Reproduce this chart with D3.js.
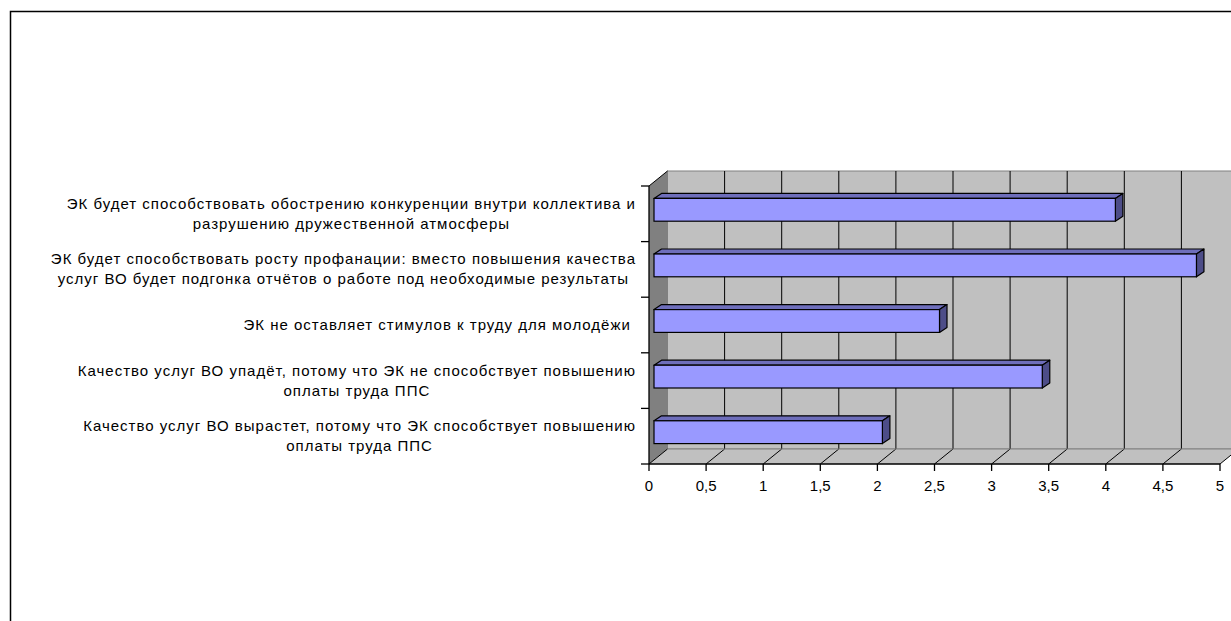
<!DOCTYPE html>
<html><head><meta charset="utf-8">
<script src="https://cdn.jsdelivr.net/npm/d3@7"></script>
<style>html,body{margin:0;padding:0;background:#fff;}svg{display:block;}</style>
</head><body>
<svg id="c" width="1231" height="621"></svg>
<script>
const categories = [
  ["ЭК будет способствовать обострению конкуренции внутри коллектива и", "разрушению дружественной атмосферы"],
  ["ЭК будет способствовать росту профанации: вместо повышения качества", "услуг ВО будет подгонка отчётов о работе под необходимые результаты"],
  ["ЭК не оставляет стимулов к труду для молодёжи "],
  ["Качество услуг ВО упадёт, потому что ЭК не способствует повышению", "оплаты труда ППС"],
  ["Качество услуг ВО вырастет, потому что ЭК способствует повышению", "оплаты труда ППС"]
];
const values = [4.04, 4.75, 2.5, 3.4, 2.0];
const tickValues = [0, 0.5, 1, 1.5, 2, 2.5, 3, 3.5, 4, 4.5, 5];
const tickLabels = ["0", "0,5", "1", "1,5", "2", "2,5", "3", "3,5", "4", "4,5", "5"];

const svg = d3.select("#c");
const font = "'Liberation Sans', Arial, sans-serif";

// chart area border
svg.append("path").attr("d", "M10.5,621 V11.5 H1231").attr("fill", "none").attr("stroke", "#000").attr("stroke-width", 1.5);

const x = d3.scaleLinear().domain([0, 5]).range([649, 1220]);
const y = d3.scaleBand().domain(d3.range(categories.length)).range([186, 464]).padding(0);
const DX = 18.5, DY = -15;        // full depth offset
const bF = [5, -4], bB = [12.5, -9]; // bar front/back depth offsets
const barH = y.bandwidth() * 0.41;

const x0 = x(0), x5 = x(5), yTop = y.range()[0], yBot = y.range()[1];

// back wall
svg.append("rect").attr("x", x0 + DX).attr("y", yTop + DY).attr("width", x5 - x0).attr("height", yBot - yTop)
  .attr("fill", "#c0c0c0").attr("stroke", "#808080").attr("stroke-width", 1);
// floor
svg.append("path").attr("d", `M${x0},${yBot} L${x5},${yBot} L${x5 + DX},${yBot + DY} L${x0 + DX},${yBot + DY} Z`)
  .attr("fill", "#c0c0c0").attr("stroke", "none");
// left wall
svg.append("path").attr("d", `M${x0},${yTop} L${x0 + DX},${yTop + DY} L${x0 + DX},${yBot + DY} L${x0},${yBot} Z`)
  .attr("fill", "#808080").attr("stroke", "none");
svg.append("line").attr("x1", x0).attr("y1", yTop).attr("x2", x0 + DX).attr("y2", yTop + DY).attr("stroke", "#000").attr("stroke-width", 1);

// gridlines on back wall and floor diagonals
const grid = tickValues.slice(1);
svg.selectAll(".grid").data(grid).join("line").attr("class", "grid")
  .attr("x1", d => x(d) + DX).attr("x2", d => x(d) + DX).attr("y1", yTop + DY).attr("y2", yBot + DY)
  .attr("stroke", "#000").attr("stroke-width", 1);
svg.selectAll(".fdiag").data(tickValues).join("line").attr("class", "fdiag")
  .attr("x1", d => x(d)).attr("y1", yBot).attr("x2", d => x(d) + DX).attr("y2", yBot + DY)
  .attr("stroke", "#000").attr("stroke-width", 1);
svg.append("line").attr("x1", x0 + DX).attr("x2", x5 + DX).attr("y1", yBot + DY).attr("y2", yBot + DY).attr("stroke", "#808080");

// bars
const g = svg.append("g");
values.forEach((v, i) => {
  const cy = y(i) + y.bandwidth() / 2;
  const fx0 = x(0) + bF[0], fx1 = x(v) + bF[0];
  const ft = cy + bF[1] - barH / 2, fb = cy + bF[1] + barH / 2;
  const ddx = bB[0] - bF[0], ddy = bB[1] - bF[1];
  // top face
  g.append("path").attr("d", `M${fx0},${ft} L${fx0 + ddx},${ft + ddy} L${fx1 + ddx},${ft + ddy} L${fx1},${ft} Z`)
    .attr("fill", "#6e6ebb").attr("stroke", "#000").attr("stroke-width", 1.2).attr("stroke-linejoin", "round");
  // side face
  g.append("path").attr("d", `M${fx1},${ft} L${fx1 + ddx},${ft + ddy} L${fx1 + ddx},${fb + ddy} L${fx1},${fb} Z`)
    .attr("fill", "#4d4d88").attr("stroke", "#000").attr("stroke-width", 1.2).attr("stroke-linejoin", "round");
  // front face
  g.append("rect").attr("x", fx0).attr("y", ft).attr("width", fx1 - fx0).attr("height", barH)
    .attr("fill", "#9999ff").attr("stroke", "#000").attr("stroke-width", 1.2);
});

// axes (front)
svg.append("line").attr("x1", x0).attr("x2", x0).attr("y1", yTop).attr("y2", yBot).attr("stroke", "#000").attr("stroke-width", 1.3);
svg.append("line").attr("x1", x0).attr("x2", x5).attr("y1", yBot).attr("y2", yBot).attr("stroke", "#000").attr("stroke-width", 1.3);
svg.selectAll(".ytick").data(d3.range(categories.length + 1)).join("line").attr("class", "ytick")
  .attr("x1", x0 - 8).attr("x2", x0).attr("y1", d => yTop + d * y.bandwidth()).attr("y2", d => yTop + d * y.bandwidth())
  .attr("stroke", "#000").attr("stroke-width", 1.3);
svg.selectAll(".xtick").data(tickValues).join("line").attr("class", "xtick")
  .attr("x1", d => x(d)).attr("x2", d => x(d)).attr("y1", yBot).attr("y2", yBot + 7)
  .attr("stroke", "#000").attr("stroke-width", 1.3);
svg.selectAll(".xlab").data(tickValues).join("text").attr("class", "xlab")
  .attr("x", d => x(d)).attr("y", yBot + 27).attr("text-anchor", "middle")
  .attr("font-family", font).attr("font-size", 15).attr("fill", "#000")
  .text((d, i) => tickLabels[i]);

// category labels
const labelRight = 636, lh = 20;
categories.forEach((lines, i) => {
  const cy = y(i) + y.bandwidth() / 2;
  const t = svg.append("g");
  const texts = lines.map((s, j) => t.append("text").attr("font-family", font).attr("font-size", 15).attr("fill", "#000")
    .attr("letter-spacing", 1).attr("text-anchor", "middle").attr("xml:space", "preserve")
    .attr("y", cy + (j - (lines.length - 1) / 2) * lh + 5).text(s));
  const w = d3.max(texts, n => n.node().getComputedTextLength());
  texts.forEach(n => n.attr("x", labelRight - w / 2));
});
</script>
</body></html>
